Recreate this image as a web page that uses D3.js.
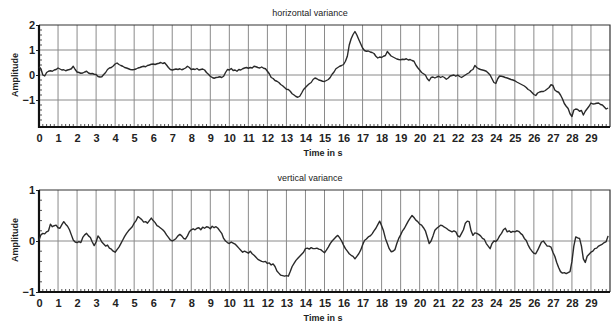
<!DOCTYPE html>
<html>
<head>
<meta charset="utf-8">
<script src="https://cdn.jsdelivr.net/npm/d3@7"></script>
<style>
  body { margin: 0; background: #fff; }
  svg { display: block; }
  text { font-family: "Liberation Sans", Arial, sans-serif; fill: #222; }
</style>
</head>
<body>
<svg id="chart" width="615" height="326"></svg>
<script>
// sample step of both traces, in seconds
const step = 0.1;

// horizontal variance, one value every 0.1 s from t = 0
const horizontal = [
  0.33, 0.25, 0.0, -0.04, 0.1, 0.15, 0.17, 0.15, 0.2, 0.22,
  0.28, 0.24, 0.2, 0.21, 0.17, 0.2, 0.22, 0.25, 0.35, 0.22,
  0.12, 0.1, 0.07, 0.08, 0.12, 0.15, 0.08, 0.05, 0.06, 0.03,
  0.02, -0.06, -0.08, -0.07, 0.02, 0.1, 0.22, 0.28, 0.3, 0.36,
  0.44, 0.48, 0.42, 0.38, 0.35, 0.3, 0.28, 0.25, 0.22, 0.21,
  0.22, 0.24, 0.28, 0.3, 0.33, 0.35, 0.33, 0.38, 0.4, 0.43,
  0.44, 0.42, 0.45, 0.47, 0.5, 0.46, 0.49, 0.4, 0.3, 0.22,
  0.2, 0.22, 0.24, 0.22, 0.25, 0.21, 0.24, 0.28, 0.35, 0.3,
  0.22, 0.24, 0.22, 0.26, 0.2, 0.22, 0.24, 0.2, 0.1, 0.03,
  -0.05, -0.1, -0.13, -0.1, -0.09, -0.07, -0.1, -0.05, 0.1, 0.22,
  0.2, 0.26, 0.18, 0.2, 0.15, 0.22, 0.2, 0.25, 0.28, 0.3,
  0.27, 0.3, 0.28, 0.35, 0.33, 0.3, 0.28, 0.32, 0.27, 0.25,
  0.15, 0.05, -0.1, -0.14, -0.22, -0.25, -0.3, -0.38, -0.43, -0.5,
  -0.57, -0.58, -0.65, -0.75, -0.8, -0.86, -0.89, -0.85, -0.72, -0.58,
  -0.5, -0.42, -0.35, -0.3, -0.18, -0.12, -0.15, -0.2, -0.22, -0.25,
  -0.26, -0.22, -0.18, -0.1, 0.03, 0.12, 0.25, 0.3, 0.35, 0.38,
  0.42, 0.55, 0.75, 1.2, 1.45, 1.62, 1.74, 1.6, 1.42, 1.25,
  1.08, 0.98, 0.95, 0.96, 0.92, 0.9, 0.86, 0.75, 0.68, 0.72,
  0.7, 0.75, 0.78, 0.94, 0.85, 0.76, 0.72, 0.68, 0.64, 0.62,
  0.61, 0.63, 0.62, 0.65, 0.6, 0.62, 0.58, 0.55, 0.4, 0.29,
  0.2, 0.1, 0.05, 0.0, -0.15, -0.23, -0.1, -0.08, -0.12, -0.08,
  -0.05, -0.1, -0.06, -0.1, -0.17, -0.12, -0.04, -0.02, 0.0, -0.05,
  0.0, -0.06, -0.1, -0.05, 0.0, 0.05, 0.09, 0.18, 0.22, 0.38,
  0.3, 0.25, 0.22, 0.2, 0.18, 0.15, 0.08, 0.0, -0.15, -0.3,
  -0.34, -0.15, -0.04, -0.05, -0.07, -0.1, -0.12, -0.15, -0.18, -0.2,
  -0.23, -0.28, -0.32, -0.36, -0.4, -0.44, -0.5, -0.58, -0.62, -0.7,
  -0.78, -0.82, -0.72, -0.68, -0.66, -0.66, -0.62, -0.56, -0.5, -0.39,
  -0.42, -0.6, -0.66, -0.69, -0.8, -0.95, -1.14, -1.25, -1.34, -1.55,
  -1.66, -1.4, -1.36, -1.38, -1.45, -1.42, -1.6, -1.45, -1.35, -1.25,
  -1.12, -1.16, -1.15, -1.13, -1.12, -1.18, -1.2, -1.28, -1.36, -1.32
];

// vertical variance, one value every 0.1 s from t = 0
const vertical = [
  0.02, 0.12, 0.15, 0.14, 0.18, 0.2, 0.33, 0.28, 0.3, 0.31,
  0.26, 0.25, 0.32, 0.38, 0.33, 0.29, 0.22, 0.12, 0.02, -0.02,
  -0.03, -0.01, -0.03, 0.07, 0.12, 0.15, 0.1, 0.07, -0.02, -0.09,
  -0.02, 0.1, 0.05, -0.02, -0.06, -0.1, -0.08, -0.14, -0.16, -0.2,
  -0.22, -0.17, -0.12, -0.05, 0.02, 0.09, 0.15, 0.2, 0.24, 0.28,
  0.35, 0.4, 0.48, 0.45, 0.42, 0.37, 0.38, 0.35, 0.4, 0.45,
  0.4, 0.36, 0.3, 0.28, 0.25, 0.22, 0.18, 0.12, 0.07, 0.02,
  0.0, 0.02, 0.05, 0.1, 0.13, 0.1, 0.05, 0.04, 0.1, 0.18,
  0.22, 0.24, 0.22, 0.25, 0.26, 0.22, 0.27, 0.25, 0.28, 0.27,
  0.24, 0.29, 0.26, 0.28, 0.25, 0.2, 0.15, 0.05, 0.0, -0.03,
  -0.05, -0.02, -0.04, -0.06, -0.1, -0.14, -0.18, -0.22, -0.2, -0.22,
  -0.24, -0.2, -0.25, -0.28, -0.32, -0.36, -0.38, -0.4, -0.41, -0.4,
  -0.44, -0.43, -0.47, -0.45, -0.5, -0.59, -0.63, -0.67, -0.68, -0.69,
  -0.68, -0.69, -0.6, -0.5, -0.44, -0.38, -0.34, -0.3, -0.26, -0.22,
  -0.15, -0.14, -0.16, -0.13, -0.15, -0.15, -0.14, -0.16, -0.17, -0.2,
  -0.23, -0.18, -0.12, -0.05, 0.0, 0.04, 0.08, 0.11, 0.06, 0.0,
  -0.08, -0.15, -0.2, -0.25, -0.28, -0.3, -0.35, -0.3, -0.25, -0.18,
  -0.08, 0.01, 0.04, 0.08, 0.1, 0.14, 0.2, 0.25, 0.32, 0.39,
  0.3, 0.2, 0.05, -0.05, -0.15, -0.21, -0.2, -0.17, -0.05, 0.05,
  0.12, 0.2, 0.25, 0.32, 0.39, 0.45, 0.5, 0.46, 0.41, 0.38,
  0.33, 0.31, 0.26, 0.2, 0.08, -0.05, 0.0, 0.1, 0.21, 0.25,
  0.28, 0.31, 0.3, 0.27, 0.25, 0.22, 0.2, 0.18, 0.2, 0.18,
  0.1, 0.08, 0.15, 0.22, 0.35, 0.39, 0.38, 0.2, 0.11, 0.16,
  0.15, 0.13, 0.1, 0.05, 0.03, -0.05, -0.1, -0.15, -0.05, 0.0,
  -0.01, 0.03, 0.1, 0.15, 0.22, 0.25, 0.18, 0.2, 0.17, 0.19,
  0.18, 0.2, 0.19, 0.15, 0.12, 0.05, 0.01, -0.08, -0.15, -0.2,
  -0.24, -0.25, -0.18, -0.1, -0.02, 0.0, -0.05, -0.1, -0.1, -0.12,
  -0.22, -0.3, -0.42, -0.52, -0.6, -0.63, -0.62, -0.64, -0.62, -0.6,
  -0.4, -0.1, 0.08, 0.06, 0.05, -0.1, -0.35, -0.42, -0.3, -0.26,
  -0.22, -0.2, -0.15, -0.14, -0.1, -0.08, -0.06, -0.03, -0.01, 0.1
];

// axis ticks
const timeTicks = d3.range(0, 30, 1);
const hTicks = [2, 1, 0, -1];
const hGrid = [1, 0, -1];
const vTicks = [1, 0, -1];
const vGrid = [0];

const svg = d3.select("#chart");

const x = d3.scaleLinear().domain([0, 30]).range([39, 610]);

// draws one of the two panels
function drawPanel(opts) {
  const y = d3.scaleLinear().domain(opts.domain).range([opts.bottom, opts.top]);
  const g = svg.append("g");

  // vertical gridlines each second
  g.selectAll(".vgrid")
    .data(timeTicks.slice(1))
    .join("line")
      .attr("x1", d => x(d)).attr("x2", d => x(d))
      .attr("y1", opts.top).attr("y2", opts.bottom)
      .attr("stroke", "#8a8a8a")
      .attr("stroke-width", 1);

  // horizontal gridlines
  g.selectAll(".hgrid")
    .data(opts.grid)
    .join("line")
      .attr("x1", x(0)).attr("x2", x(30))
      .attr("y1", d => y(d)).attr("y2", d => y(d))
      .attr("stroke", "#8a8a8a")
      .attr("stroke-width", 1);

  // top and right border
  g.append("path")
    .attr("d", `M${x(0)},${opts.top}H${x(30)}V${opts.bottom}`)
    .attr("fill", "none")
    .attr("stroke", "#333")
    .attr("stroke-width", 1.2);

  // minor ticks along the bottom (every 0.2 s)
  const minorX = d3.range(0, 150).map(i => i * 0.2).filter((d, i) => i % 5 !== 0);
  g.selectAll(".mx")
    .data(minorX)
    .join("line")
      .attr("x1", d => x(d)).attr("x2", d => x(d))
      .attr("y1", opts.bottom).attr("y2", opts.bottom - 3)
      .attr("stroke", "#555");

  // minor ticks along the left
  const lo = opts.domain[0], hi = opts.domain[1];
  const minorY = d3.range(Math.ceil(lo * 5), Math.floor(hi * 5) + 1)
    .map(i => i / 5).filter(d => Math.abs(d * 5 % 5) > 0.01);
  g.selectAll(".my")
    .data(minorY)
    .join("line")
      .attr("x1", x(0)).attr("x2", x(0) + 3)
      .attr("y1", d => y(d)).attr("y2", d => y(d))
      .attr("stroke", "#555");

  // x axis
  g.append("g")
    .attr("transform", `translate(0,${opts.bottom})`)
    .call(d3.axisBottom(x).tickValues(timeTicks).tickSize(0).tickPadding(7))
    .call(a => a.select(".domain").remove())
    .call(a => a.selectAll("text")
      .attr("font-size", 11).attr("font-weight", "bold")
      .attr("font-family", "Liberation Sans, Arial, sans-serif").attr("fill", "#222"));

  // y axis
  g.append("g")
    .attr("transform", `translate(${x(0)},0)`)
    .call(d3.axisLeft(y).tickValues(opts.ticks).tickSize(3).tickPadding(1).tickFormat(d3.format("d")))
    .call(a => a.select(".domain").remove())
    .call(a => a.selectAll("line").attr("stroke", "#222"))
    .call(a => a.selectAll("text")
      .attr("font-size", 11).attr("font-weight", "bold")
      .attr("font-family", "Liberation Sans, Arial, sans-serif").attr("fill", "#222"));

  // heavy left and bottom axis lines
  g.append("path")
    .attr("d", `M${x(0)},${opts.top}V${opts.bottom}H${x(30)}`)
    .attr("fill", "none")
    .attr("stroke", "#111")
    .attr("stroke-width", 2.2);

  // the trace
  const line = d3.line()
    .x((d, i) => x(i * step))
    .y(d => y(d));

  g.append("path")
    .datum(opts.values)
    .attr("d", line)
    .attr("fill", "none")
    .attr("stroke", "#2a2a2a")
    .attr("stroke-width", 1.4)
    .attr("stroke-linejoin", "round");

  // title
  g.append("text")
    .attr("x", 310).attr("y", opts.top - 9)
    .attr("text-anchor", "middle")
    .attr("font-size", 9)
    .text(opts.title);

  // axis labels
  g.append("text")
    .attr("x", 323).attr("y", opts.bottom + 29)
    .attr("text-anchor", "middle")
    .attr("font-size", 9).attr("font-weight", "bold")
    .text("Time in s");

  g.append("text")
    .attr("transform", `translate(18,${(opts.top + opts.bottom) / 2 - 1}) rotate(-90)`)
    .attr("text-anchor", "middle")
    .attr("font-size", 9).attr("font-weight", "bold")
    .text("Amplitude");
}

drawPanel({
  title: "horizontal variance",
  values: horizontal,
  domain: [-2.08, 2],
  top: 25, bottom: 127,
  ticks: hTicks, grid: hGrid
});

drawPanel({
  title: "vertical variance",
  values: vertical,
  domain: [-1, 1],
  top: 190, bottom: 292,
  ticks: vTicks, grid: vGrid
});
</script>
</body>
</html>
